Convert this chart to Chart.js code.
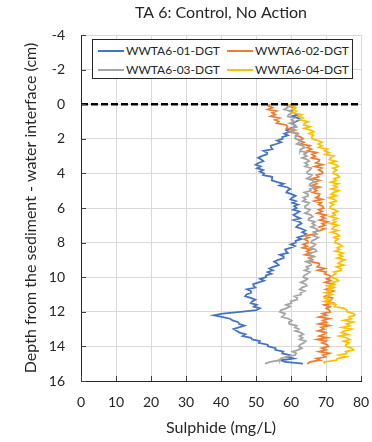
<!DOCTYPE html>
<html>
<head>
<meta charset="utf-8">
<script src="https://cdn.jsdelivr.net/npm/chart.js@4.4.1/dist/chart.umd.min.js"></script>
<style>
  body { margin: 0; background: #fff; }
  #wrap { position: relative; width: 372px; height: 442px; }
  #legend {
    position: absolute; left: 92px; top: 39px; width: 259px; height: 38px;
    border: 1px solid #262626; background: #fff;
    font-family: Lato, sans-serif; font-size: 12px; color: #262626;
  }
  .item { position: absolute; display: flex; align-items: center; white-space: nowrap; }
  .swatch { width: 26px; height: 2px; margin-right: 2px; }
</style>
</head>
<body>
<div id="wrap">
  <canvas id="chart" width="372" height="442"></canvas>
  <div id="legend"></div>
</div>
<script>
// ── Data ──────────────────────────────────────────────────────────────
const depths = [
  0.0,0.1,0.2,0.3,0.4,0.5,0.6,0.7,0.8,0.9,
  1.0,1.1,1.2,1.3,1.4,1.5,1.6,1.7,1.8,1.9,
  2.0,2.1,2.2,2.3,2.4,2.5,2.6,2.7,2.8,2.9,
  3.0,3.1,3.2,3.3,3.4,3.5,3.6,3.7,3.8,3.9,
  4.0,4.1,4.2,4.3,4.4,4.5,4.6,4.7,4.8,4.9,
  5.0,5.1,5.2,5.3,5.4,5.5,5.6,5.7,5.8,5.9,
  6.0,6.1,6.2,6.3,6.4,6.5,6.6,6.7,6.8,6.9,
  7.0,7.1,7.2,7.3,7.4,7.5,7.6,7.7,7.8,7.9,
  8.0,8.1,8.2,8.3,8.4,8.5,8.6,8.7,8.8,8.9,
  9.0,9.1,9.2,9.3,9.4,9.5,9.6,9.7,9.8,9.9,
  10.0,10.1,10.2,10.3,10.4,10.5,10.6,10.7,10.8,10.9,
  11.0,11.1,11.2,11.3,11.4,11.5,11.6,11.7,11.8,11.9,
  12.0,12.1,12.2,12.3,12.4,12.5,12.6,12.7,12.8,12.9,
  13.0,13.1,13.2,13.3,13.4,13.5,13.6,13.7,13.8,13.9,
  14.0,14.1,14.2,14.3,14.4,14.5,14.6,14.7,14.8,14.9,
  15.0
];

const wwta01 = [
  60.2,59.3,61.2,60.6,59.8,60.8,62.0,60.3,62.1,62.7,
  61.4,60.3,61.0,61.5,59.8,58.7,59.6,58.1,59.1,57.5,
  57.6,56.0,57.2,55.8,54.2,54.3,54.7,52.2,53.2,53.1,
  51.6,50.6,51.5,52.1,50.7,49.9,51.3,50.3,52.0,51.1,
  52.3,52.0,54.6,54.6,54.5,56.1,57.9,56.7,58.9,59.8,
  59.0,58.7,60.2,61.3,60.3,59.8,61.4,60.4,62.0,60.9,
  61.6,60.6,62.4,61.6,60.7,61.5,62.6,60.8,62.5,63.0,
  62.0,61.5,63.0,64.1,63.2,64.3,63.6,61.9,62.9,61.3,
  61.4,59.9,61.1,59.8,58.3,58.6,59.1,56.8,57.9,57.9,
  56.3,55.2,56.0,56.5,54.9,53.8,54.8,53.3,54.4,52.8,
  52.9,51.2,52.3,50.8,49.2,49.3,49.8,47.4,48.5,48.6,
  47.3,46.9,48.5,49.8,48.9,48.5,50.2,49.4,51.1,50.1,
  45.5,40.5,37.9,40.2,42.6,43.3,44.9,45.2,46.7,45.1,
  43.6,44.4,45.3,47.0,46.2,48.6,48.9,51.1,50.8,53.3,
  53.4,55.6,55.5,57.8,57.5,59.6,58.8,60.8,57.1,58.3,
  63.4
];

const wwta02 = [
  54.2,53.6,54.7,53.4,55.8,54.6,55.5,54.2,56.7,55.4,
  56.5,55.9,58.6,59.0,58.7,61.1,59.5,61.8,61.4,62.8,
  63.4,62.4,63.7,62.7,65.4,64.6,65.8,64.7,67.3,66.0,
  66.9,65.9,68.1,68.0,67.1,69.0,66.8,68.7,67.9,68.9,
  69.0,67.3,67.9,66.1,68.1,66.7,67.4,65.9,68.2,66.6,
  67.3,66.2,68.2,68.0,67.1,68.9,66.7,68.6,67.9,69.0,
  69.3,67.9,68.9,67.5,69.9,68.7,69.6,68.2,70.5,68.9,
  69.6,68.1,69.6,68.4,66.5,67.2,64.0,65.1,63.8,64.7,
  64.9,63.5,64.6,63.3,65.7,64.5,65.4,64.0,66.4,65.1,
  66.2,65.5,68.0,68.1,67.5,69.6,67.7,70.0,69.6,71.0,
  71.5,70.2,71.3,69.8,72.1,70.8,71.5,70.0,72.1,70.4,
  71.1,69.8,71.8,71.5,70.4,72.0,69.5,71.1,70.1,70.9,
  71.2,69.0,70.1,68.0,70.9,69.1,70.1,68.0,70.9,68.6,
  69.4,67.7,70.0,69.5,68.1,70.4,67.5,70.0,68.9,70.3,
  70.7,68.8,70.0,68.0,70.9,69.1,69.8,67.2,68.3,65.5,
  64.6
];

const wwta03 = [
  57.9,59.4,59.0,58.1,59.8,60.4,59.3,59.1,60.9,60.1,
  60.9,59.6,61.0,61.5,60.3,61.1,60.3,62.1,61.8,61.2,
  61.3,62.8,62.4,61.6,63.3,63.9,62.8,62.6,64.5,63.7,
  64.5,63.2,64.7,65.2,64.0,64.8,64.0,65.8,65.4,64.6,
  64.6,66.0,65.5,64.5,66.1,66.6,65.5,65.3,66.8,65.4,
  65.7,63.8,64.8,64.9,63.5,64.2,63.4,65.2,64.8,64.0,
  64.0,65.4,64.9,64.0,65.6,66.2,65.1,65.0,66.8,66.1,
  66.9,65.7,67.2,67.8,66.6,67.3,66.3,67.8,67.0,66.0,
  65.7,67.0,66.5,65.5,67.0,67.3,65.8,65.2,66.6,65.4,
  65.9,64.3,65.5,65.8,64.4,65.0,63.9,65.4,64.7,63.8,
  63.5,64.7,64.0,62.8,64.2,64.5,63.1,62.5,63.9,62.7,
  62.9,61.0,61.8,61.7,59.9,60.1,58.6,59.7,58.6,57.2,
  56.8,58.3,58.0,57.4,59.3,60.2,59.4,59.5,61.6,61.1,
  62.2,61.2,62.8,63.5,62.4,63.3,62.5,64.2,63.6,62.6,
  62.2,63.1,62.1,60.5,61.5,61.2,58.7,57.1,56.9,54.1,
  52.6
];

const wwta04 = [
  58.8,60.1,61.3,60.4,61.5,60.5,63.0,62.2,63.5,62.4,
  64.9,63.9,63.6,65.4,63.8,65.6,66.5,65.2,66.4,65.9,
  66.0,67.7,68.8,67.8,68.8,67.9,70.4,69.6,70.9,69.8,
  72.2,71.3,71.0,72.8,71.1,72.8,73.5,72.0,73.0,72.3,
  72.0,73.3,73.8,72.3,72.9,71.4,73.5,72.2,73.1,71.5,
  73.6,72.2,71.5,72.9,70.9,72.3,72.9,71.2,72.1,71.3,
  71.1,72.5,73.3,71.9,72.6,71.2,73.2,72.0,72.8,71.3,
  73.4,72.2,71.7,73.3,71.5,73.1,73.8,72.3,73.4,72.7,
  72.5,73.9,74.6,73.2,73.9,72.6,74.8,73.7,74.6,73.2,
  75.3,74.1,73.5,75.0,73.0,74.2,74.3,72.2,72.8,71.9,
  71.6,73.0,73.6,72.0,72.2,70.4,72.2,70.7,71.4,69.7,
  71.7,70.3,69.6,71.1,69.4,71.4,72.8,72.4,75.1,75.9,
  76.0,77.9,78.2,76.6,77.2,75.1,77.7,75.9,76.8,74.6,
  77.2,75.3,74.4,76.2,73.8,75.8,76.8,75.0,76.5,75.7,
  75.6,77.3,77.8,75.6,76.0,73.7,75.8,73.2,73.0,69.6,
  69.5
];

const seriesNames = ['WWTA6-01-DGT', 'WWTA6-02-DGT', 'WWTA6-03-DGT', 'WWTA6-04-DGT'];
const seriesColors = ['#4472C4', '#ED7D31', '#A5A5A5', '#FFC000'];
const seriesValues = [wwta01, wwta02, wwta03, wwta04];

// sediment-water interface line
const interfaceX = [0, 80];
const interfaceDepth = 0;

const FONT = 'Lato, sans-serif';
const TEXT = '#262626';

// ── Inner tick marks ──────────────────────────────────────────────────
const innerTicks = {
  id: 'innerTicks',
  afterDraw(chart) {
    const { ctx, chartArea: a, scales: { x, y } } = chart;
    ctx.save();
    ctx.strokeStyle = '#404040';
    ctx.lineWidth = 1;
    ctx.beginPath();
    x.ticks.forEach(t => {
      const px = Math.round(x.getPixelForValue(t.value)) + 0.5;
      ctx.moveTo(px, a.bottom);
      ctx.lineTo(px, a.bottom - 5);
    });
    y.ticks.forEach(t => {
      const py = Math.round(y.getPixelForValue(t.value)) + 0.5;
      ctx.moveTo(a.left, py);
      ctx.lineTo(a.left + 5, py);
    });
    ctx.stroke();
    ctx.restore();
  }
};

// ── Chart ─────────────────────────────────────────────────────────────
const datasets = seriesValues.map((vals, i) => ({
  label: seriesNames[i],
  data: vals.map((v, k) => ({ x: v, y: depths[k] })),
  borderColor: seriesColors[i],
  borderWidth: 1.8,
  pointRadius: 0,
  showLine: true,
  tension: 0,
  order: 4 - i
}));

datasets.push({
  label: 'interface',
  data: interfaceX.map(v => ({ x: v, y: interfaceDepth })),
  borderColor: '#000',
  borderWidth: 2.5,
  borderDash: [7, 3],
  pointRadius: 0,
  showLine: true,
  order: 0
});

new Chart(document.getElementById('chart'), {
  type: 'scatter',
  data: { datasets },
  plugins: [innerTicks],
  options: {
    responsive: false,
    animation: false,
    layout: { padding: { left: 0, right: 11, top: 0, bottom: 0 } },
    plugins: {
      legend: { display: false },
      tooltip: { enabled: false },
      title: {
        display: true,
        text: 'TA 6: Control, No Action',
        fullSize: false,
        color: TEXT,
        font: { family: FONT, size: 16, weight: 'normal' },
        padding: { top: 3, bottom: 12.8 }
      }
    },
    scales: {
      x: {
        type: 'linear',
        min: 0, max: 80,
        afterFit: s => { s.height = 61; s.paddingLeft = 0; s.paddingRight = 0; },
        ticks: { stepSize: 10, color: TEXT, font: { family: FONT, size: 14 }, padding: 13 },
        grid: { color: '#d9d9d9', drawTicks: false },
        border: { color: '#262626', width: 1 },
        title: {
          display: true, text: 'Sulphide (mg/L)', color: TEXT,
          font: { family: FONT, size: 16 }, padding: { top: 0, bottom: 4.4 }
        }
      },
      y: {
        type: 'linear',
        reverse: true,
        min: -4, max: 16,
        afterFit: s => { s.width = 81; },
        ticks: { stepSize: 2, color: TEXT, font: { family: FONT, size: 14 }, padding: 16 },
        grid: { color: '#d9d9d9', drawTicks: false },
        border: { color: '#262626', width: 1 },
        title: {
          display: true, text: 'Depth from the sediment - water interface (cm)', color: TEXT,
          font: { family: FONT, size: 16 }, padding: { top: 21, bottom: 0 }
        }
      }
    }
  }
});

// ── Legend ────────────────────────────────────────────────────────────
const legend = document.getElementById('legend');
const legendPos = [[5, 3], [134, 3], [5, 22], [134, 22]];
seriesNames.forEach((name, i) => {
  const item = document.createElement('div');
  item.className = 'item';
  item.style.left = legendPos[i][0] + 'px';
  item.style.top = legendPos[i][1] + 'px';
  item.innerHTML = `<span class="swatch" style="background:${seriesColors[i]}"></span><span>${name}</span>`;
  legend.appendChild(item);
});
</script>
</body>
</html>
